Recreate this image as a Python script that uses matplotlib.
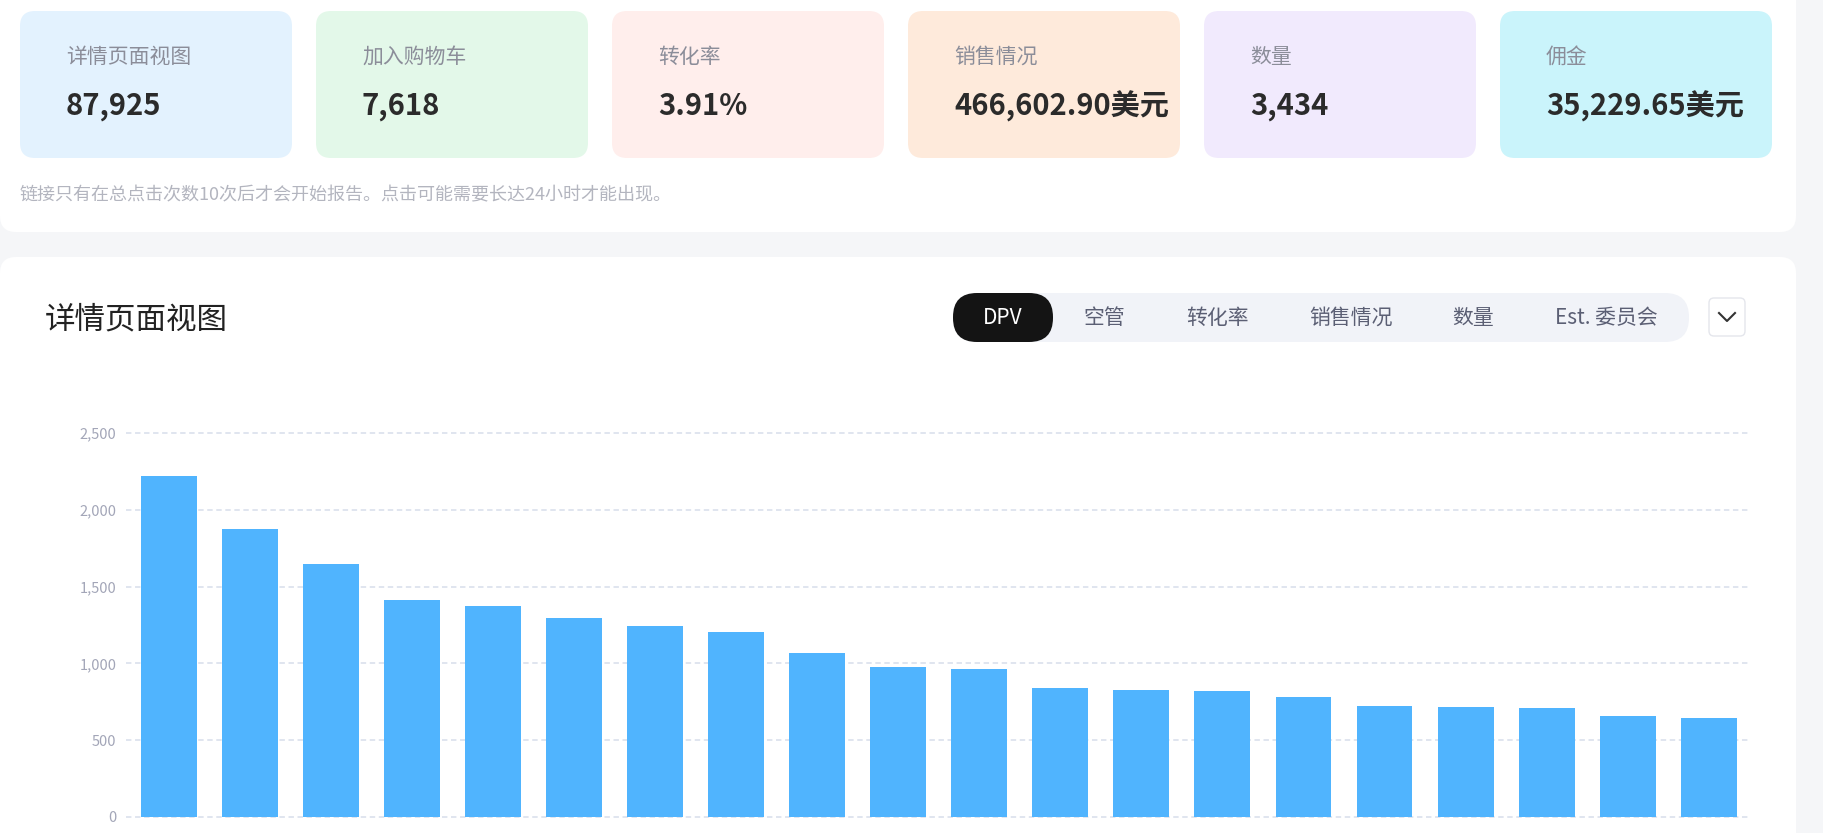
import numpy as np
import matplotlib
matplotlib.use('Agg')
import matplotlib.pyplot as plt
from matplotlib.patches import FancyBboxPatch

plt.rcParams['font.family'] = ['Noto Sans CJK SC', 'DejaVu Sans']

# datos de las tarjetas de arriba
card_labels = ['详情页面视图', '加入购物车', '转化率', '销售情况', '数量', '佣金']
card_values = ['87,925', '7,618', '3.91%', '466,602.90美元', '3,434', '35,229.65美元']
card_colors = ['#e3f2fe', '#e3f8e9', '#ffeeec', '#feeadb', '#f1eafd', '#caf4fb']
nota = '链接只有在总点击次数10次后才会开始报告。点击可能需要长达24小时才能出现。'

# pestañas del grafico
titulo = '详情页面视图'
tabs = ['DPV', '空管', '转化率', '销售情况', '数量', 'Est. 委员会']

# valores de las barras (DPV)
dpv = [2223, 1872, 1649, 1411, 1372, 1294, 1242, 1203, 1067, 978,
       965, 838, 827, 820, 779, 723, 716, 710, 660, 643]
y_ticks = [0, 500, 1000, 1500, 2000, 2500]

W, H = 1824, 833
fig = plt.figure(figsize=(W / 100, H / 100), dpi=100, facecolor='#f5f6f8')

# eje de fondo en pixeles
bg = fig.add_axes([0, 0, 1, 1])
bg.set_xlim(0, W)
bg.set_ylim(H, 0)
bg.axis('off')

def caja(x, y, w, h, color, r, edge='none', lw=0):
    p = FancyBboxPatch((x, y), w, h, boxstyle='round,pad=0,rounding_size=%d' % r,
                       facecolor=color, edgecolor=edge, linewidth=lw)
    bg.add_patch(p)

# paneles blancos
caja(0, -40, 1796, 272, 'white', 16)
caja(0, 257, 1796, 700, 'white', 16)

# tarjetas
for i in range(len(card_labels)):
    x0 = 20 + i * 296
    caja(x0, 11, 272, 147, card_colors[i], 15)
    bg.text(x0 + 46, 57, card_labels[i], fontsize=15, color='#8b8d99', va='center', ha='left')
    bg.text(x0 + 46, 106, card_values[i], fontsize=21, color='#2b2b2b', fontweight='bold',
            va='center', ha='left')

bg.text(20, 195, nota, fontsize=13, color='#b3b5bf', va='center', ha='left')

# titulo y pestañas
bg.text(45, 320, titulo, fontsize=22, color='#222222', va='center', ha='left')
caja(953, 293, 736, 49, '#f1f3f8', 24)
caja(953, 293, 100, 49, '#141414', 24)
tab_x = [1003, 1104, 1217, 1351, 1473, 1606]
for i, t in enumerate(tabs):
    col = 'white' if i == 0 else '#5b5f74'
    bg.text(tab_x[i], 318, t, fontsize=15, color=col, va='center', ha='center')

# boton desplegable
caja(1709, 298, 36, 38, 'white', 5, edge='#e4e6ec', lw=1)
bg.plot([1719, 1727, 1735], [313, 321, 313], color='#333333', lw=1.5)

# grafica de barras
ax = fig.add_axes([126 / W, (H - 817) / H, (1750 - 126) / W, (817 - 433) / H])
ax.set_facecolor('none')
x = np.arange(len(dpv))
ax.bar(x, dpv, width=0.69, color='#50b4fe', zorder=2)
ax.set_xlim(-0.53, 19.51)
ax.set_ylim(0, 2500)
ax.set_yticks(y_ticks)
ax.set_yticklabels(['{:,}'.format(v) for v in y_ticks])
ax.set_xticks([])
ax.tick_params(axis='y', length=0, pad=7, labelsize=10.5, labelcolor='#a3a6b8')
ax.yaxis.grid(True, color='#dde3ee', linestyle=(0, (3, 2)), linewidth=1.3, zorder=0)
for s in ax.spines.values():
    s.set_visible(False)
for gl in ax.get_ygridlines():
    gl.set_clip_on(False)

fig.savefig('out.png', dpi=100, facecolor=fig.get_facecolor())
